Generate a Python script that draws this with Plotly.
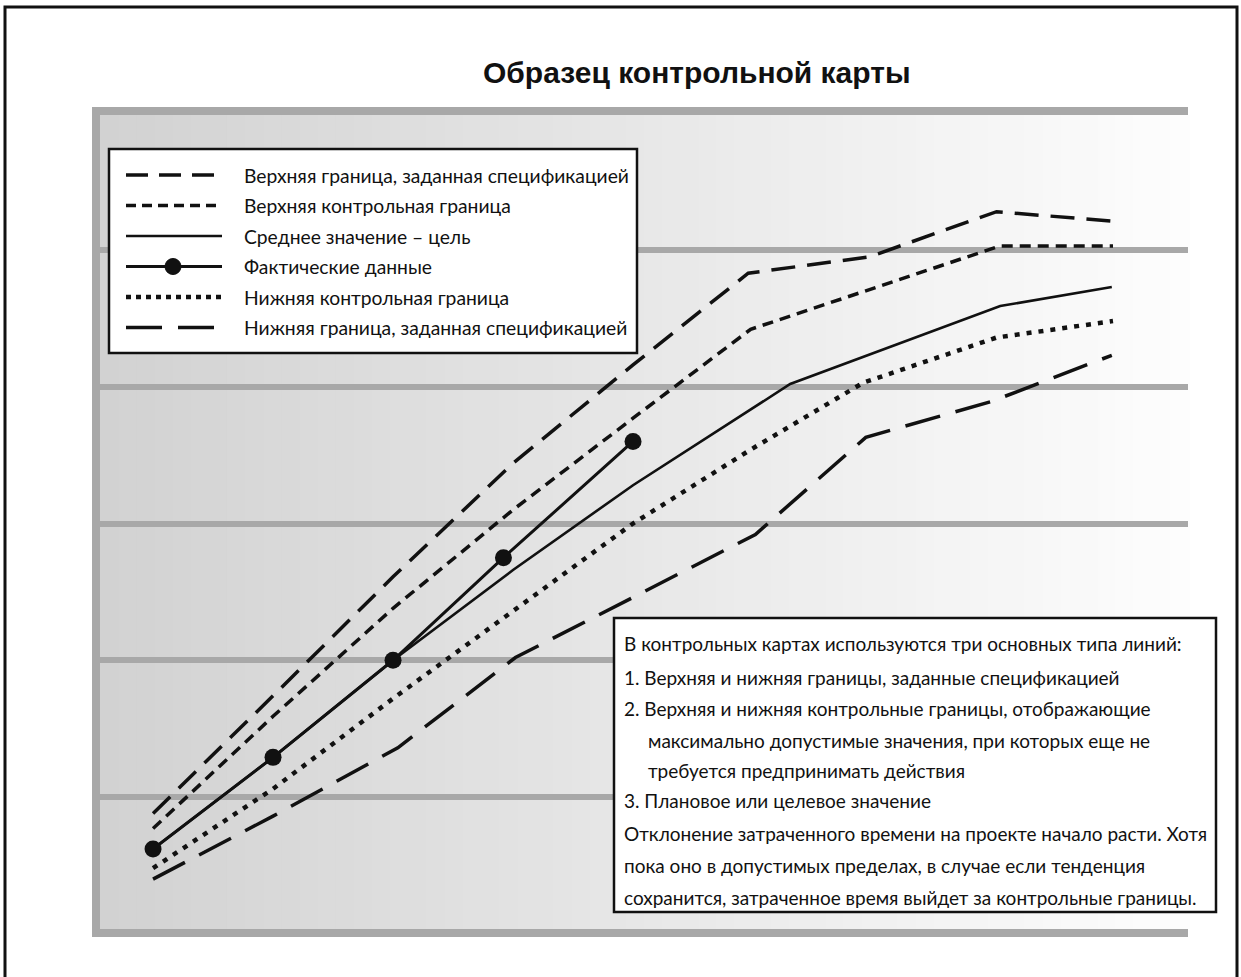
import plotly.graph_objects as go

# ---------------- data ----------------
usl_x = [1, 2, 3, 4, 5, 5.96, 6.97, 8.03, 9]
usl_y = [0.88, 1.74, 2.61, 3.44, 4.16, 4.83, 4.95, 5.28, 5.21]

ucl_x = [1, 2, 3, 4, 5, 5.98, 8.06, 9]
ucl_y = [0.77, 1.59, 2.38, 3.10, 3.77, 4.42, 5.03, 5.03]

mean_x = [1, 2, 3, 4, 5, 6.31, 8.06, 8.99]
mean_y = [0.62, 1.29, 2.00, 2.66, 3.28, 4.02, 4.59, 4.73]

act_x = [1, 2, 3, 3.92, 5]
act_y = [0.62, 1.29, 2.00, 2.75, 3.60]

lcl_x = [1, 2, 3, 4, 5, 5.98, 6.92, 8.03, 9]
lcl_y = [0.48, 1.06, 1.72, 2.36, 3.00, 3.54, 4.03, 4.36, 4.48]

lsl_x = [1, 2, 3.04, 4.02, 5, 6.02, 6.94, 7.98, 8.99]
lsl_y = [0.40, 0.86, 1.36, 2.02, 2.46, 2.92, 3.63, 3.89, 4.23]

legend_labels = [
    "Верхняя граница, заданная спецификацией",
    "Верхняя контрольная граница",
    "Среднее значение – цель",
    "Фактические данные",
    "Нижняя контрольная граница",
    "Нижняя граница, заданная спецификацией",
]

title_text = "Образец контрольной карты"

note_lines = [
    "В контрольных картах используются три основных типа линий:",
    "1. Верхняя и нижняя границы, заданные спецификацией",
    "2. Верхняя и нижняя контрольные границы, отображающие",
    "максимально допустимые значения, при которых еще не",
    "требуется предпринимать действия",
    "3. Плановое или целевое значение",
    "Отклонение затраченного времени на проекте начало расти. Хотя",
    "пока оно в допустимых пределах, в случае если тенденция",
    "сохранится, затраченное время выйдет за контрольные границы.",
]
note_indent = [0, 0, 0, 1, 1, 0, 0, 0, 0]

# ---------------- layout geometry ----------------
W, H = 1241, 977
PL, PR, PT, PB = 100, 1188, 115, 929  # plot area in px


def px(xp):
    return (xp - PL) / (PR - PL)


def py(yp):
    return (PB - yp) / (PB - PT)


NARROW = "Lato, Roboto, Liberation Sans, sans-serif"
TITLEF = "Liberation Sans, Arial, sans-serif"
BLK = "#111111"
GRID = "#a8a8a8"

fig = go.Figure()

dash_usl = "24px,12px"
dash_ucl = "11px,7px"
dash_lcl = "5px,7px"
dash_lsl = "36px,16px"

fig.add_trace(go.Scatter(x=usl_x, y=usl_y, mode="lines", name=legend_labels[0],
                         line=dict(color=BLK, width=3.5, dash=dash_usl)))
fig.add_trace(go.Scatter(x=ucl_x, y=ucl_y, mode="lines", name=legend_labels[1],
                         line=dict(color=BLK, width=3.5, dash=dash_ucl)))
fig.add_trace(go.Scatter(x=mean_x, y=mean_y, mode="lines", name=legend_labels[2],
                         line=dict(color=BLK, width=2.6)))
fig.add_trace(go.Scatter(x=lcl_x, y=lcl_y, mode="lines", name=legend_labels[4],
                         line=dict(color=BLK, width=4.5, dash=dash_lcl)))
fig.add_trace(go.Scatter(x=lsl_x, y=lsl_y, mode="lines", name=legend_labels[5],
                         line=dict(color=BLK, width=3.5, dash=dash_lsl)))
fig.add_trace(go.Scatter(x=act_x, y=act_y, mode="lines+markers", name=legend_labels[3],
                         line=dict(color=BLK, width=3),
                         marker=dict(color=BLK, size=17)))

shapes = []
# gradient background strips
N = 60
for i in range(N):
    t = i / (N - 1)
    c = int(round(210 + (253 - 210) * t))
    shapes.append(dict(type="rect", xref="paper", yref="paper",
                       x0=i / N, x1=(i + 1) / N + 0.002, y0=0, y1=1,
                       fillcolor=f"rgb({c},{c},{c})", line=dict(width=0), layer="below"))

# outer frame
shapes.append(dict(type="rect", xref="paper", yref="paper",
                   x0=px(5), x1=px(1237), y0=py(990), y1=py(7),
                   line=dict(color=BLK, width=3), fillcolor="rgba(0,0,0,0)", layer="above"))

# legend box
LB = (109, 149, 637, 353)
shapes.append(dict(type="rect", xref="paper", yref="paper",
                   x0=px(LB[0]), x1=px(LB[2]), y0=py(LB[3]), y1=py(LB[1]),
                   line=dict(color=BLK, width=2.5), fillcolor="white", layer="above"))
rows = [175, 205.5, 236, 266.5, 297, 327.5]
samples = [
    (dict(color=BLK, width=3.5, dash="22px,11px"), False),
    (dict(color=BLK, width=3.5, dash="10px,6px"), False),
    (dict(color=BLK, width=2.6), False),
    (dict(color=BLK, width=3), True),
    (dict(color=BLK, width=4.5, dash="5px,5px"), False),
    (dict(color=BLK, width=3.5, dash="36px,16px"), False),
]
for r, (ln, mk) in zip(rows, samples):
    shapes.append(dict(type="line", xref="paper", yref="paper",
                       x0=px(126), x1=px(222), y0=py(r), y1=py(r), line=ln, layer="above"))
    if mk:
        shapes.append(dict(type="circle", xref="paper", yref="paper",
                           x0=px(165), x1=px(181), y0=py(r + 8), y1=py(r - 8),
                           fillcolor=BLK, line=dict(color=BLK, width=1), layer="above"))

# note box
NB = (614, 618, 1216, 912)
shapes.append(dict(type="rect", xref="paper", yref="paper",
                   x0=px(NB[0]), x1=px(NB[2]), y0=py(NB[3]), y1=py(NB[1]),
                   line=dict(color=BLK, width=2.5), fillcolor="white", layer="above"))

annotations = []
annotations.append(dict(text=f"<b>{title_text}</b>", xref="paper", yref="paper",
                        x=px(697), y=py(73), xanchor="center", yanchor="middle",
                        showarrow=False, font=dict(family=TITLEF, size=30, color=BLK)))
for r, lab in zip(rows, legend_labels):
    annotations.append(dict(text=lab, xref="paper", yref="paper", x=px(242), y=py(r),
                            xanchor="left", yanchor="middle", showarrow=False,
                            font=dict(family=NARROW, size=19.3, color=BLK)))
note_rows = [643, 678, 708, 740, 770, 800, 833, 865, 897]
for r, lab, ind in zip(note_rows, note_lines, note_indent):
    annotations.append(dict(text=lab, xref="paper", yref="paper",
                            x=px(646 if ind else 622), y=py(r),
                            xanchor="left", yanchor="middle", showarrow=False,
                            font=dict(family=NARROW, size=19, color=BLK)))

fig.update_layout(
    width=W, height=H,
    margin=dict(l=PL, r=W - PR, t=PT, b=H - PB, pad=0),
    paper_bgcolor="white", plot_bgcolor="rgba(0,0,0,0)",
    showlegend=False,
    shapes=shapes, annotations=annotations,
    xaxis=dict(range=[0.558, 9.625], showgrid=False, zeroline=False,
               showticklabels=False, ticks="", showline=True, linecolor=GRID,
               linewidth=8, mirror=True),
    yaxis=dict(range=[0.035, 5.987], dtick=1, tick0=0, showgrid=True, gridcolor=GRID,
               gridwidth=6, zeroline=False, showticklabels=False, ticks="",
               showline=True, linecolor=GRID, linewidth=8, mirror=False),
)

fig.write_html("out.html", config={"displayModeBar": False},
               post_script="document.body.style.margin='0';")
